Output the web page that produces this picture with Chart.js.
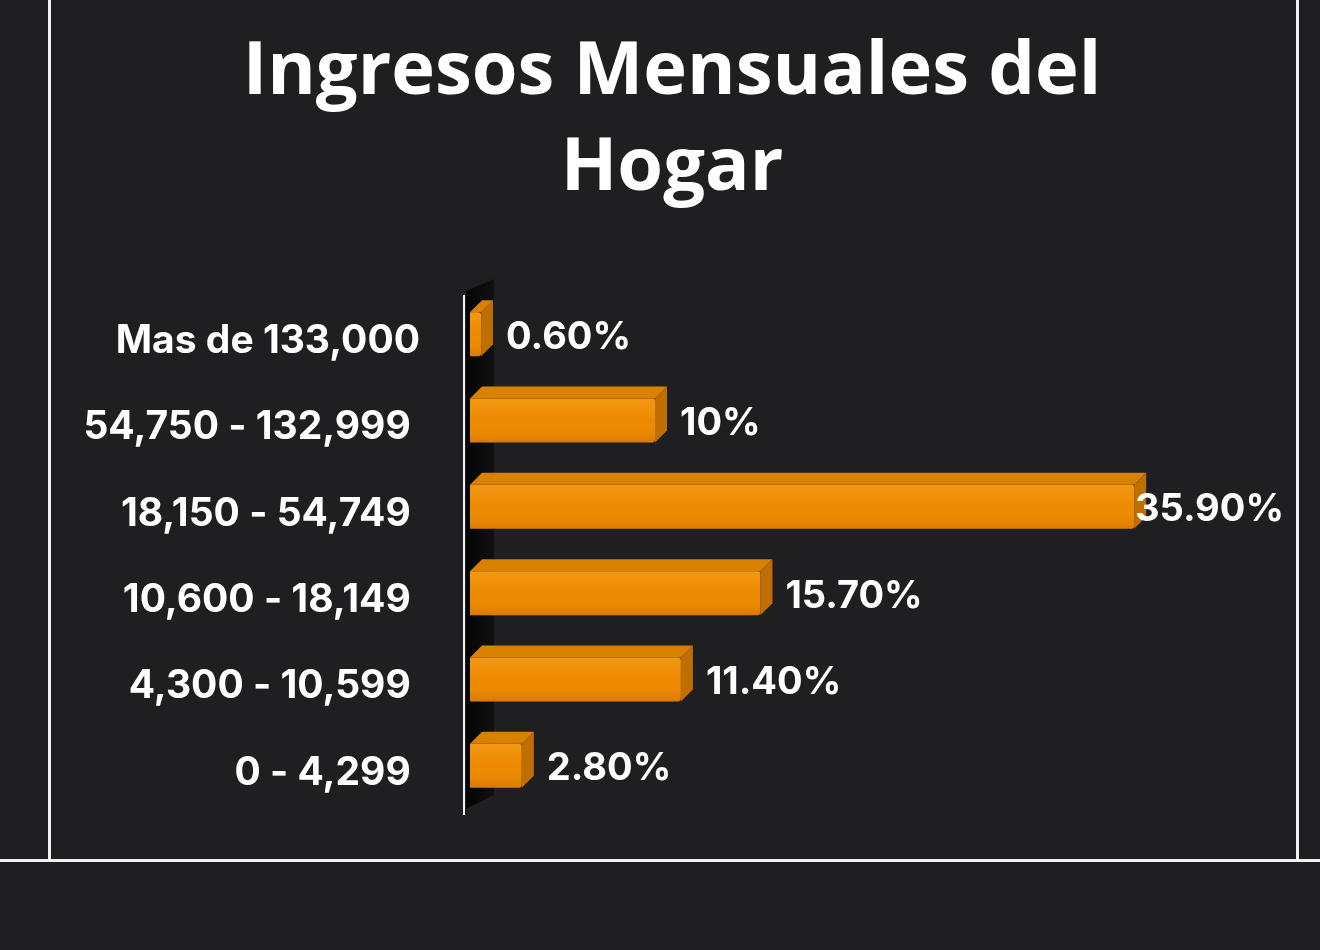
<!DOCTYPE html>
<html>
<head>
<meta charset="utf-8">
<script src="https://cdn.jsdelivr.net/npm/chart.js@4.4.1/dist/chart.umd.min.js"></script>
<style>
  html, body { margin: 0; padding: 0; background: #1f1f21; }
  body { width: 1320px; height: 950px; position: relative; overflow: hidden; font-family: "Open Sans", sans-serif; }
  #frame { position: absolute; left: 48px; top: -4px; width: 1245px; height: 863px; border-left: 3px solid #f2f2f2; border-right: 3px solid #f2f2f2; }
  #floor { position: absolute; left: 0; top: 859px; width: 1320px; height: 3px; background: #f2f2f2; }
  #title { position: absolute; left: 0; top: 18px; width: 1344px; text-align: center; color: #fff; font: bold 74px "Open Sans", sans-serif; line-height: 96px; }
  #chartBox { position: absolute; left: 0; top: 0; width: 1320px; height: 950px; }
</style>
</head>
<body>
<div id="frame"></div>
<div id="floor"></div>
<div id="title">Ingresos Mensuales del<br>Hogar</div>
<div id="chartBox"><canvas id="incomeChart" width="1320" height="950"></canvas></div>
<script>
const ranges = ['Mas de 133,000', '54,750 - 132,999 ', '18,150 - 54,749 ', '10,600 - 18,149 ', '4,300 - 10,599 ', '0 - 4,299 '];
const shares = [0.6, 10, 35.9, 15.7, 11.4, 2.8];
const shareLabels = ['0.60%', '10%', '35.90%', '15.70%', '11.40%', '2.80%'];

const depth = 12;

// draws the back wall, axis line, the 3D faces and the value labels
const bars3d = {
    id: 'bars3d',
    beforeDatasetsDraw(chart) {
        const ctx = chart.ctx;
        const area = chart.chartArea;
        ctx.save();
        const wall = ctx.createLinearGradient(area.left - 4, 0, area.left + depth + 12, 0);
        wall.addColorStop(0, 'rgba(0,0,0,0.85)');
        wall.addColorStop(1, 'rgba(0,0,0,0.45)');
        ctx.fillStyle = wall;
        ctx.beginPath();
        ctx.moveTo(area.left - 4, area.top);
        ctx.lineTo(area.left + depth + 12, area.top - depth);
        ctx.lineTo(area.left + depth + 12, area.bottom - depth - 2);
        ctx.lineTo(area.left - 4, area.bottom);
        ctx.closePath();
        ctx.fill();

        ctx.strokeStyle = '#f2f2f2';
        ctx.lineWidth = 2;
        ctx.beginPath();
        ctx.moveTo(area.left - 6, area.top + 4);
        ctx.lineTo(area.left - 6, area.bottom + 6);
        ctx.stroke();
        ctx.restore();
    },
    afterDatasetsDraw(chart) {
        const ctx = chart.ctx;
        const meta = chart.getDatasetMeta(0);
        ctx.save();
        meta.data.forEach((bar, i) => {
            const top = bar.y - bar.height / 2;
            const bottom = bar.y + bar.height / 2;
            const left = bar.base;
            const right = bar.x;

            // soft shading on the front face
            const shade = ctx.createLinearGradient(0, top, 0, bottom);
            shade.addColorStop(0, 'rgba(255,190,80,0.25)');
            shade.addColorStop(0.5, 'rgba(255,190,80,0)');
            shade.addColorStop(1, 'rgba(120,50,0,0.18)');
            ctx.fillStyle = shade;
            ctx.fillRect(left, top, right - left, bottom - top);

            ctx.fillStyle = '#d98100';
            ctx.beginPath();
            ctx.moveTo(left, top);
            ctx.lineTo(left + depth, top - depth);
            ctx.lineTo(right + depth, top - depth);
            ctx.lineTo(right, top);
            ctx.closePath();
            ctx.fill();

            ctx.fillStyle = '#bf6f00';
            ctx.beginPath();
            ctx.moveTo(right, top);
            ctx.lineTo(right + depth, top - depth);
            ctx.lineTo(right + depth, bottom - depth);
            ctx.lineTo(right, bottom);
            ctx.closePath();
            ctx.fill();

            ctx.font = 'bold 38px Inter, sans-serif';
            ctx.fillStyle = '#ffffff';
            ctx.textBaseline = 'middle';
            const w = ctx.measureText(shareLabels[i]).width;
            let tx = right + depth + 13;
            if (tx + w > chart.chartArea.right) tx = chart.chartArea.right - w;
            ctx.fillText(shareLabels[i], tx, bar.y + 3);
        });
        ctx.restore();
    }
};

const ctx = document.getElementById('incomeChart').getContext('2d');
new Chart(ctx, {
    type: 'bar',
    data: {
        labels: ranges,
        datasets: [{
            data: shares,
            backgroundColor: '#ee8a00',
            borderWidth: 0,
            borderRadius: 3,
            barPercentage: 0.51,
            categoryPercentage: 1
        }]
    },
    options: {
        indexAxis: 'y',
        responsive: false,
        animation: false,
        layout: {
            padding: { top: 291, bottom: 141, right: 36, left: 0 }
        },
        scales: {
            x: {
                display: false,
                min: 0,
                max: 44
            },
            y: {
                grid: { display: false, drawTicks: false },
                border: { display: false },
                afterFit: function(scale) { scale.width = 470; },
                ticks: {
                    color: '#ffffff',
                    padding: 50,
                    labelOffset: 7,
                    font: { family: 'Inter', weight: 'bold', size: 39 }
                }
            }
        },
        plugins: {
            legend: { display: false },
            tooltip: { enabled: false }
        }
    },
    plugins: [bars3d]
});
</script>
</body>
</html>
